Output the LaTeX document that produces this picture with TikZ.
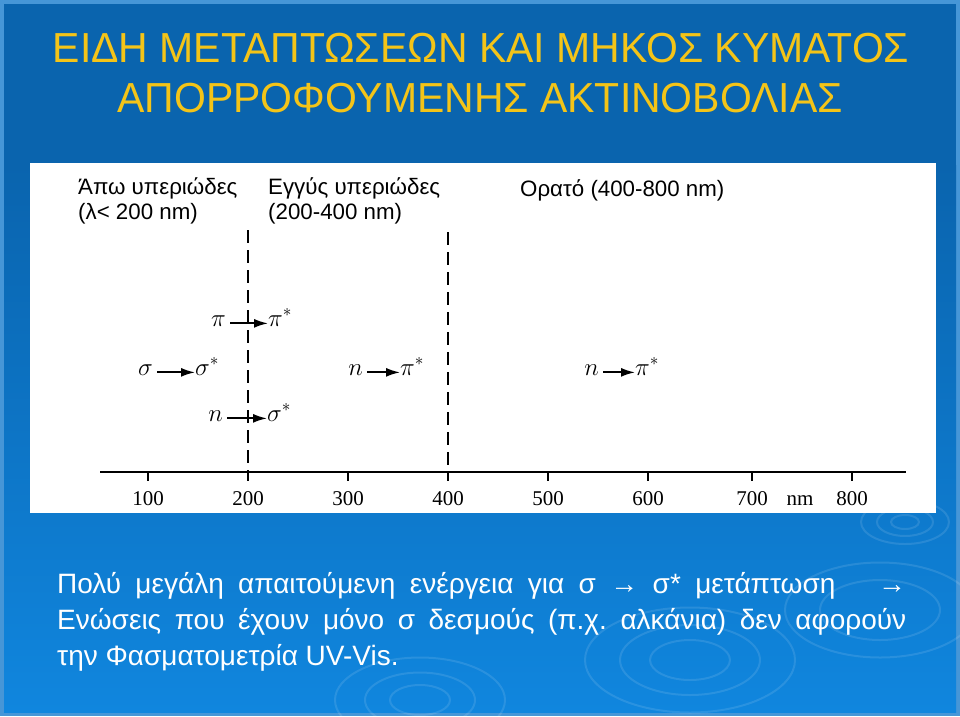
\documentclass[tikz,border=0pt]{standalone}
\usepackage{fontspec}
\setmainfont{Liberation Sans}
\newfontfamily\titlefont[FakeStretch=0.975]{Liberation Sans}
\newfontfamily\axisfont{Liberation Serif}
\usetikzlibrary{arrows.meta}

\definecolor{slideedge}{RGB}{70,150,215}
\definecolor{slidetop}{RGB}{10,100,174}
\definecolor{slidebot}{RGB}{16,134,222}
\definecolor{titleyellow}{RGB}{244,196,24}

\begin{document}
\frenchspacing
\begin{tikzpicture}[x=1pt,y=-1pt]
  \tikzset{
    every node/.style={inner sep=0pt},
    headtxt/.style={anchor=base west,font=\fontsize{22.3}{22}\selectfont},
    titletxt/.style={text=titleyellow,font=\titlefont\fontsize{42}{42}\selectfont},
    bodytxt/.style={anchor=base west,text=white,font=\fontsize{28}{28}\selectfont},
    lvl/.style={font=\fontsize{25}{25}\selectfont},
    lvlL/.style={lvl,anchor=base east},
    lvlR/.style={lvl,anchor=base west},
    ticklab/.style={anchor=base,font=\axisfont\fontsize{21}{21}\selectfont},
    bandline/.style={line width=2.6pt,dash pattern=on 13pt off 7pt},
    trans/.style={-{Latex[length=14pt,width=9pt]},line width=1.8pt,shorten <=4pt},
    ripple/.style={white,opacity=.11,line width=2pt}
  }
  \useasboundingbox (0,0) rectangle (960,716);

  % slide background
  \fill[slideedge] (0,0) rectangle (960,716);
  \fill[slidetop] (4,4) rectangle (956,166);
  \shade[top color=slidetop,bottom color=slidebot] (4,165) rectangle (956,712);
  \foreach \cx/\cy/\r in {905/522/14,905/522/28,905/522/44,
                          420/700/30,420/700/55,420/700/85,
                          690/660/40,690/660/70,690/660/105,
                          880/610/60,880/610/95}
    \draw[ripple] (\cx,\cy) ellipse ({\r} and {\r*0.5});

  % title
  \node[titletxt] (title1) at (481,48) {ΕΙΔΗ ΜΕΤΑΠΤΩΣΕΩΝ ΚΑΙ ΜΗΚΟΣ ΚΥΜΑΤΟΣ};
  \node[titletxt] (title2) at (480,98) {ΑΠΟΡΡΟΦΟΥΜΕΝΗΣ ΑΚΤΙΝΟΒΟΛΙΑΣ};

  % chart panel
  \fill[white] (30,163) rectangle (936,513);

  \node[headtxt] (farUV)  at (78,194)  {Άπω υπεριώδες};
  \node[headtxt] (farR)   at (78,219)  {(λ< 200 nm)};
  \node[headtxt] (nearUV) at (268,194) {Εγγύς υπεριώδες};
  \node[headtxt] (nearR)  at (268,219) {(200-400 nm)};
  \node[headtxt] (vis)    at (520,196) {Ορατό (400-800 nm)};

  \coordinate (axL) at (100,472);
  \coordinate (axR) at (906,472);
  \draw[line width=2pt] (axL) -- (axR);
  \foreach \v/\x in {100/148,200/248,300/348,400/448,500/548,600/648,700/752,800/852}{
    \draw[line width=2pt] (\x,472) -- (\x,481);
    \node[ticklab] (tick\v) at (\x,505) {\v};
  }
  \node[ticklab] (unit) at (800,505) {nm};

  \coordinate (b200top) at (248,230);
  \coordinate (b200bot) at (248,472);
  \coordinate (b400top) at (448,232);
  \coordinate (b400bot) at (448,472);
  \draw[bandline] (b200top) -- (b200bot);
  \draw[bandline] (b400top) -- (b400bot);

  \node[lvlL] (pi1)   at (226,326) {$\pi$};
  \node[lvlR] (pis1)  at (268,326) {$\pi^*$};
  \node[lvlL] (sg1)   at (153,375) {$\sigma$};
  \node[lvlR] (sgs1)  at (195,375) {$\sigma^*$};
  \node[lvlL] (n1)    at (223,421) {$n$};
  \node[lvlR] (sgs2)  at (267,421) {$\sigma^*$};
  \node[lvlL] (n2)    at (363,375) {$n$};
  \node[lvlR] (pis2)  at (400,375) {$\pi^*$};
  \node[lvlL] (n3)    at (599,375) {$n$};
  \node[lvlR] (pis3)  at (635,375) {$\pi^*$};

  \draw[trans] (pi1.mid east) -- (pi1.mid east -| pis1.west);
  \draw[trans] (sg1.mid east) -- (sg1.mid east -| sgs1.west);
  \draw[trans] (n1.mid east)  -- (n1.mid east -| sgs2.west);
  \draw[trans] (n2.mid east)  -- (n2.mid east -| pis2.west);
  \draw[trans] (n3.mid east)  -- (n3.mid east -| pis3.west);

  % text below
  \node[bodytxt] (line1) at (57,593)
    {\makebox[849pt][s]{Πολύ μεγάλη απαιτούμενη ενέργεια για σ → σ* μετάπτωση \hspace{14pt} →}};
  \node[bodytxt] (line2) at (57,629)
    {\makebox[849pt][s]{Ενώσεις που έχουν μόνο σ δεσμούς (π.χ. αλκάνια) δεν αφορούν}};
  \node[bodytxt] (line3) at (57,665) {την Φασματομετρία UV-Vis.};
\end{tikzpicture}
\end{document}
